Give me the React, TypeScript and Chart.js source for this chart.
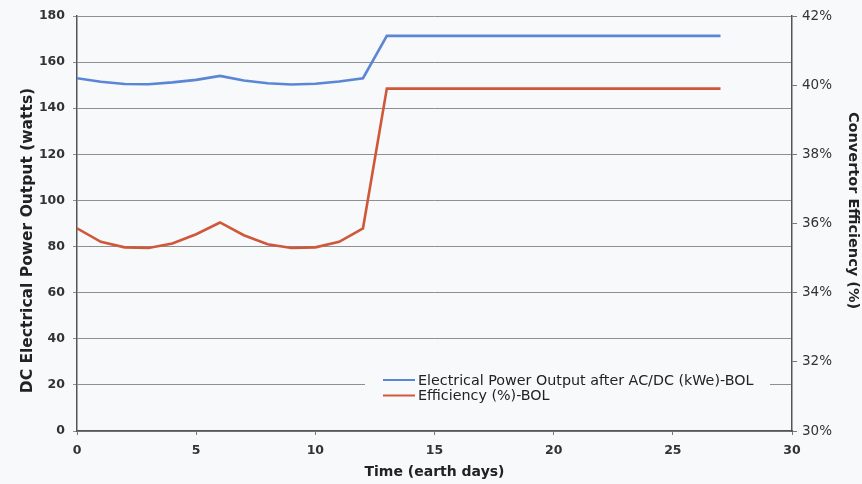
import React, { useEffect, useRef } from 'react';
import { Chart, ChartConfiguration, Plugin, registerables } from 'chart.js';

Chart.register(...registerables);

// time in earth days
const days = [0, 1, 2, 3, 4, 5, 6, 7, 8, 9, 10, 11, 12, 13, 14, 15, 16, 17, 18, 19, 20, 21, 22, 23, 24, 25, 26, 27];
// DC electrical power output (watts)
const powerOutput = [
    153, 151.5, 150.5, 150.4, 151.2, 152.3, 154, 152, 150.8, 150.3, 150.6, 151.6, 153,
    171.4, 171.4, 171.4, 171.4, 171.4, 171.4, 171.4, 171.4, 171.4, 171.4, 171.4, 171.4, 171.4, 171.4, 171.4,
];
// convertor efficiency (%)
const efficiency = [
    35.86, 35.47, 35.31, 35.29, 35.42, 35.69, 36.03, 35.66, 35.4, 35.29, 35.31, 35.47, 35.86,
    39.9, 39.9, 39.9, 39.9, 39.9, 39.9, 39.9, 39.9, 39.9, 39.9, 39.9, 39.9, 39.9, 39.9, 39.9,
];
const seriesLabels = ['Electrical Power Output after AC/DC (kWe)-BOL', 'Efficiency (%)-BOL'];
const seriesColors = ['#5b86d6', '#d0583a'];
const axisTitles = ['Time (earth days)', 'DC Electrical Power Output (watts)', 'Convertor Efficiency (%)'];

const FONT = '"DejaVu Sans", Verdana, sans-serif';
const BG = '#f8f9fb';

// legend box drawn inside the plot area, bottom right
const legendBox: Plugin = {
    id: 'legendBox',
    afterDraw(chart) {
        const { ctx, chartArea } = chart;
        const x0 = chartArea.left + 288;
        const x1 = chartArea.right - 22;
        const y0 = chartArea.bottom - 68;
        const y1 = chartArea.bottom - 20;
        ctx.save();
        ctx.fillStyle = BG;
        ctx.fillRect(x0, y0, x1 - x0, y1 - y0);
        ctx.font = `14.3px ${FONT}`;
        ctx.textBaseline = 'middle';
        chart.data.datasets.forEach((ds, i) => {
            const y = y0 + 17 + i * 15.5;
            ctx.strokeStyle = ds.borderColor as string;
            ctx.lineWidth = 2;
            ctx.beginPath();
            ctx.moveTo(x0 + 18, y);
            ctx.lineTo(x0 + 50, y);
            ctx.stroke();
            ctx.fillStyle = '#222';
            ctx.fillText(ds.label || '', x0 + 53, y + 1);
        });
        ctx.restore();
    },
};

// vertical axis titles, sitting a bit off-centre like the original
const sideTitles: Plugin = {
    id: 'sideTitles',
    afterDraw(chart) {
        const { ctx, chartArea } = chart;
        const mid = (chartArea.top + chartArea.bottom) / 2;
        ctx.save();
        ctx.fillStyle = '#222';
        ctx.textAlign = 'center';
        ctx.textBaseline = 'middle';

        ctx.font = `bold 15.5px ${FONT}`;
        ctx.translate(28, mid + 17);
        ctx.rotate(-Math.PI / 2);
        ctx.fillText(axisTitles[1], 0, 0);
        ctx.setTransform(1, 0, 0, 1, 0, 0);

        const dpr = chart.currentDevicePixelRatio || 1;
        ctx.setTransform(dpr, 0, 0, dpr, 0, 0);
        ctx.font = `bold 14.5px ${FONT}`;
        ctx.translate(chart.width - 9, mid - 13);
        ctx.rotate(Math.PI / 2);
        ctx.fillText(axisTitles[2], 0, 0);
        ctx.restore();
    },
};

const App: React.FC = () => {
    const canvasRef = useRef<HTMLCanvasElement>(null);

    useEffect(() => {
        document.body.style.margin = '0';
        if (!canvasRef.current) return;
        const ctx = canvasRef.current.getContext('2d');
        if (!ctx) return;

        const config: ChartConfiguration<'line'> = {
            type: 'line',
            data: {
                datasets: [
                    {
                        label: seriesLabels[0],
                        data: days.map((d, i) => ({ x: d, y: powerOutput[i] })),
                        borderColor: seriesColors[0],
                        borderWidth: 2.6,
                        pointRadius: 0,
                        yAxisID: 'y',
                    },
                    {
                        label: seriesLabels[1],
                        data: days.map((d, i) => ({ x: d, y: efficiency[i] })),
                        borderColor: seriesColors[1],
                        borderWidth: 2.6,
                        pointRadius: 0,
                        yAxisID: 'y1',
                    },
                ],
            },
            options: {
                animation: false,
                responsive: true,
                maintainAspectRatio: false,
                layout: { padding: { top: 16, left: 0, right: 0, bottom: 0 } },
                plugins: {
                    legend: { display: false },
                    tooltip: { enabled: false },
                },
                scales: {
                    x: {
                        type: 'linear',
                        min: 0,
                        max: 30,
                        ticks: { stepSize: 5, color: '#333', padding: 8, font: { family: FONT, size: 12.5, weight: 'bold' } },
                        grid: { drawOnChartArea: false, color: '#777', tickLength: 4 },
                        border: { color: '#555', width: 1.5 },
                        title: {
                            display: true,
                            text: axisTitles[0],
                            color: '#222',
                            font: { family: FONT, size: 14, weight: 'bold' },
                            padding: { top: 0, bottom: 3 },
                        },
                        afterFit: (s) => { s.height = 53; },
                    },
                    y: {
                        position: 'left',
                        min: 0,
                        max: 180,
                        ticks: { stepSize: 20, color: '#333', padding: 8, font: { family: FONT, size: 12.5, weight: 'bold' } },
                        grid: { color: '#8f8f8f', lineWidth: 1, tickLength: 4 },
                        border: { color: '#555', width: 1.5 },
                        afterFit: (s) => { s.width = 77; },
                    },
                    y1: {
                        position: 'right',
                        min: 30,
                        max: 42,
                        ticks: {
                            stepSize: 2,
                            color: '#333',
                            padding: 5,
                            font: { family: FONT, size: 13.5 },
                            callback: (v) => `${v}%`,
                        },
                        grid: { drawOnChartArea: false, color: '#777', tickLength: 5 },
                        border: { color: '#555', width: 1.5 },
                        afterFit: (s) => { s.width = 70; },
                    },
                },
            },
            plugins: [legendBox, sideTitles],
        };

        const chart = new Chart(ctx, config);
        return () => {
            chart.destroy();
        };
    }, []);

    return (
        <div style={{ width: 862, height: 484, background: BG, position: 'relative' }}>
            <canvas ref={canvasRef} />
        </div>
    );
};

export default App;
